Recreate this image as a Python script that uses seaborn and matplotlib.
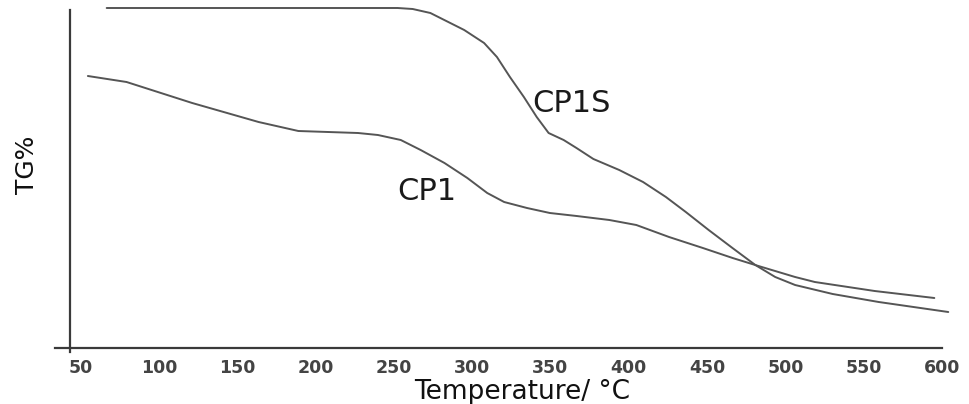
import matplotlib
matplotlib.use("Agg")
import matplotlib.pyplot as plt
import seaborn as sns
import pandas as pd

# ---- data (Temperature in °C, TG in % on an arbitrary scale) ----
cp1_temp = [54.6, 79.3, 121.2, 163.6, 189.0, 208.0, 227.1, 239.8, 254.4, 267.1, 282.3,
            296.9, 309.6, 320.4, 335.0, 349.6, 366.7, 387.6, 404.8, 425.7, 447.3,
            466.3, 482.8, 506.2, 518.8, 557.0, 595.1]
cp1_tg = [86.4, 85.2, 81.0, 77.2, 75.4, 75.2, 75.0, 74.6, 73.6, 71.6, 69.0,
          66.0, 63.0, 61.2, 60.0, 59.0, 58.4, 57.6, 56.6, 54.2, 52.0,
          50.0, 48.4, 46.2, 45.2, 43.4, 42.0]

cp1s_temp = [66.6, 252.4, 262.0, 273.3, 294.9, 307.6, 315.8, 324.1, 333.0, 341.2, 348.8,
             358.4, 366.6, 377.4, 393.9, 409.1, 423.7, 436.4, 451.0, 466.2, 480.8,
             493.5, 506.2, 530.2, 559.6, 604.0]
cp1s_tg = [100.0, 100.0, 99.8, 99.0, 95.6, 93.0, 90.2, 86.2, 82.2, 78.2, 75.0,
           73.6, 72.0, 69.8, 67.6, 65.2, 62.2, 59.2, 55.6, 52.0, 48.6,
           46.2, 44.6, 42.8, 41.2, 39.2]

series_names = ["CP1", "CP1S"]
x_ticks = [50, 100, 150, 200, 250, 300, 350, 400, 450, 500, 550, 600]
x_label = "Temperature/ °C"
y_label = "TG%"

df = pd.concat([
    pd.DataFrame({"Temperature": cp1_temp, "TG": cp1_tg, "sample": series_names[0]}),
    pd.DataFrame({"Temperature": cp1s_temp, "TG": cp1s_tg, "sample": series_names[1]}),
], ignore_index=True)

sns.set_style("white")
plt.rcParams["font.family"] = ["DejaVu Sans"]

W, H = 969, 404
fig = plt.figure(figsize=(W / 100, H / 100), dpi=100)
ax = fig.add_axes([55 / W, 1 - 352 / H, (942 - 55) / W, (352 - 8) / H])

line_color = "#555555"
sns.lineplot(data=df, x="Temperature", y="TG", hue="sample",
             palette={series_names[0]: line_color, series_names[1]: line_color},
             sort=False, estimator=None, legend=False, linewidth=1.4, ax=ax)
for ln in ax.lines:
    ln.set_clip_on(False)

ax.set_xlim(33.6, 596.1)
ax.set_ylim(31.2, 100)

for s in ["top", "right"]:
    ax.spines[s].set_visible(False)
spine_col = "#3a3a3a"
ax.spines["left"].set_position(("data", 43.2))
ax.spines["left"].set_bounds(31.2, 99.6)
ax.spines["bottom"].set_position(("data", 32.0))
for s in ["left", "bottom"]:
    ax.spines[s].set_color(spine_col)
    ax.spines[s].set_linewidth(1.6)

ax.set_xticks(x_ticks)
ax.set_xticklabels([str(t) for t in x_ticks], fontweight="bold")
ax.tick_params(axis="x", length=0, pad=8, labelsize=12.5, labelcolor="#444444")
ax.set_yticks([])
ax.set_xlabel("")
ax.set_ylabel("")

# curve labels
ax.text(338.1, 79.2, "CP1S", fontsize=22, color="#1a1a1a", ha="left", va="baseline")
ax.text(252.4, 61.6, "CP1", fontsize=22, color="#1a1a1a", ha="left", va="baseline")

# axis titles
fig.text(522 / W, 1 - 399 / H, x_label, fontsize=19, color="#111111",
         ha="center", va="baseline")
fig.text(27 / W, 1 - 165 / H, y_label, fontsize=18, color="#111111",
         ha="center", va="center", rotation=90)

fig.savefig("out.png", dpi=100)
